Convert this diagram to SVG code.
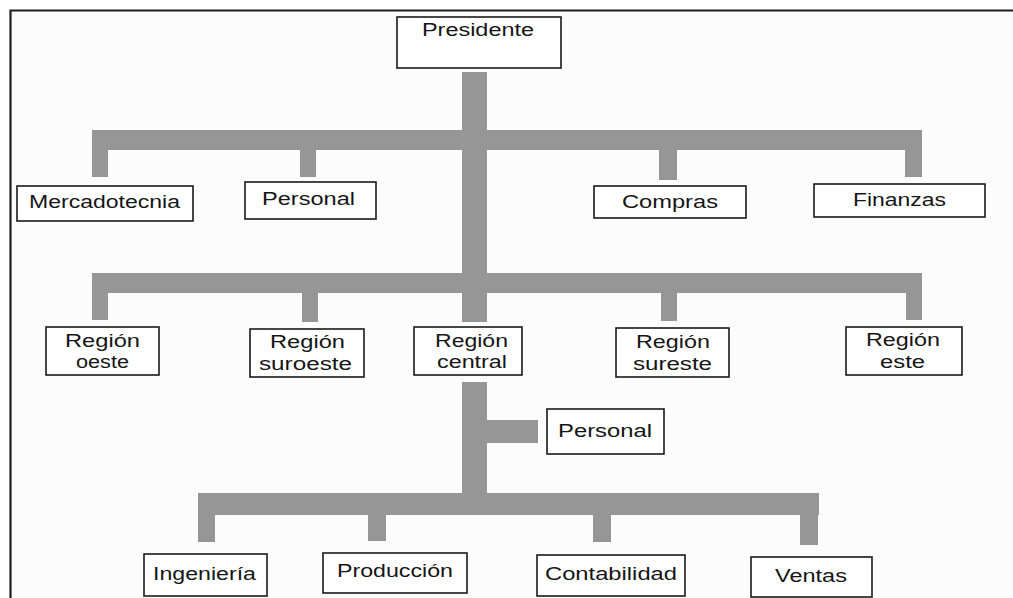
<svg xmlns="http://www.w3.org/2000/svg" width="1013" height="598" viewBox="0 0 1013 598">
  <style>
    .box { fill: #ffffff; stroke: #1a1a1a; stroke-width: 1.6; }
    .lbl { font-family: "Liberation Sans", Arial, sans-serif; font-size: 17.5px; fill: #151515; }
    .bar { fill: #969696; }
    .edge { fill: none; stroke: #1e1e1e; stroke-width: 2.2; }
  </style>

  <rect x="0" y="0" width="1013" height="598" fill="#ffffff"/>
  <!-- page area; only its top and left edges are in view -->
  <rect x="10" y="10" width="1003" height="588" fill="#fcfcfc"/>
  <path class="edge" d="M1013,10.5 H10.5 V598"/>

  <!-- connectors -->
  <g id="connectors">
    <!-- president trunk -->
    <rect class="bar" x="462" y="72" width="25" height="250"/>
    <!-- staff bar -->
    <rect class="bar" x="92" y="130" width="830" height="20"/>
    <rect class="bar" x="92" y="130" width="16" height="47"/>
    <rect class="bar" x="300" y="130" width="16" height="47"/>
    <rect class="bar" x="659" y="130" width="18" height="50"/>
    <rect class="bar" x="905" y="130" width="17" height="47"/>
    <!-- regions bar -->
    <rect class="bar" x="92" y="273" width="830" height="20"/>
    <rect class="bar" x="92" y="273" width="16" height="47"/>
    <rect class="bar" x="302" y="273" width="16" height="49"/>
    <rect class="bar" x="661" y="273" width="16" height="48"/>
    <rect class="bar" x="906" y="273" width="16" height="47"/>
    <!-- central region trunk -->
    <rect class="bar" x="462" y="382" width="25" height="120"/>
    <rect class="bar" x="487" y="420" width="51" height="23"/>
    <!-- departments bar -->
    <rect class="bar" x="198" y="493" width="621" height="22"/>
    <rect class="bar" x="198" y="493" width="17" height="49"/>
    <rect class="bar" x="368" y="493" width="18" height="48"/>
    <rect class="bar" x="593" y="493" width="18" height="49"/>
    <rect class="bar" x="800" y="493" width="18" height="52"/>
  </g>

  <g id="presidente">
    <rect class="box" x="397" y="17" width="164" height="51"/>
    <text class="lbl" x="422" y="36" textLength="112" lengthAdjust="spacingAndGlyphs">Presidente</text>
  </g>

  <g id="mercadotecnia">
    <rect class="box" x="17" y="186" width="176" height="35"/>
    <text class="lbl" x="29" y="208" textLength="151" lengthAdjust="spacingAndGlyphs">Mercadotecnia</text>
  </g>
  <g id="personal">
    <rect class="box" x="245" y="182" width="131" height="37"/>
    <text class="lbl" x="262" y="205" textLength="93" lengthAdjust="spacingAndGlyphs">Personal</text>
  </g>
  <g id="compras">
    <rect class="box" x="594" y="186" width="152" height="32"/>
    <text class="lbl" x="622" y="208" textLength="96" lengthAdjust="spacingAndGlyphs">Compras</text>
  </g>
  <g id="finanzas">
    <rect class="box" x="814" y="184" width="171" height="33"/>
    <text class="lbl" x="853" y="206" textLength="93" lengthAdjust="spacingAndGlyphs">Finanzas</text>
  </g>

  <g id="region-oeste">
    <rect class="box" x="46" y="327" width="113" height="48"/>
    <text class="lbl" x="65" y="347" textLength="75" lengthAdjust="spacingAndGlyphs">Región</text>
    <text class="lbl" x="76" y="368" textLength="53" lengthAdjust="spacingAndGlyphs">oeste</text>
  </g>
  <g id="region-suroeste">
    <rect class="box" x="250" y="329" width="114" height="48"/>
    <text class="lbl" x="270" y="348" textLength="75" lengthAdjust="spacingAndGlyphs">Región</text>
    <text class="lbl" x="259" y="370" textLength="93" lengthAdjust="spacingAndGlyphs">suroeste</text>
  </g>
  <g id="region-central">
    <rect class="box" x="414" y="327" width="108" height="48"/>
    <text class="lbl" x="435" y="347" textLength="73" lengthAdjust="spacingAndGlyphs">Región</text>
    <text class="lbl" x="437" y="368" textLength="70" lengthAdjust="spacingAndGlyphs">central</text>
  </g>
  <g id="region-sureste">
    <rect class="box" x="616" y="328" width="113" height="49"/>
    <text class="lbl" x="636" y="348" textLength="74" lengthAdjust="spacingAndGlyphs">Región</text>
    <text class="lbl" x="633" y="370" textLength="79" lengthAdjust="spacingAndGlyphs">sureste</text>
  </g>
  <g id="region-este">
    <rect class="box" x="846" y="327" width="116" height="48"/>
    <text class="lbl" x="866" y="346" textLength="74" lengthAdjust="spacingAndGlyphs">Región</text>
    <text class="lbl" x="880" y="368" textLength="45" lengthAdjust="spacingAndGlyphs">este</text>
  </g>

  <g id="personal-central">
    <rect class="box" x="547" y="409" width="117" height="45"/>
    <text class="lbl" x="558" y="437" textLength="94" lengthAdjust="spacingAndGlyphs">Personal</text>
  </g>

  <g id="ingenieria">
    <rect class="box" x="144" y="554" width="123" height="42"/>
    <text class="lbl" x="153" y="580" textLength="103" lengthAdjust="spacingAndGlyphs">Ingeniería</text>
  </g>
  <g id="produccion">
    <rect class="box" x="323" y="553" width="144" height="40"/>
    <text class="lbl" x="337" y="577" textLength="116" lengthAdjust="spacingAndGlyphs">Producción</text>
  </g>
  <g id="contabilidad">
    <rect class="box" x="537" y="555" width="148" height="41"/>
    <text class="lbl" x="545" y="580" textLength="132" lengthAdjust="spacingAndGlyphs">Contabilidad</text>
  </g>
  <g id="ventas">
    <rect class="box" x="751" y="557" width="121" height="40"/>
    <text class="lbl" x="775" y="582" textLength="72" lengthAdjust="spacingAndGlyphs">Ventas</text>
  </g>
</svg>
